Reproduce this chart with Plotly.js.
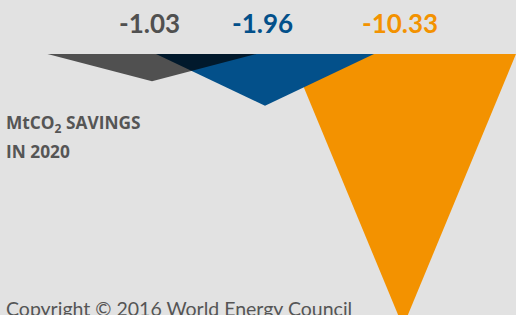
<!DOCTYPE html>
<html>
<head>
<meta charset="utf-8">
<script src="https://cdn.plot.ly/plotly-3.0.1.min.js"></script>
<style>
html,body{margin:0;padding:0;background:#e2e2e2;}
#chart{width:516px;height:315px;}
</style>
</head>
<body>
<div id="chart"></div>
<script>
// ---- data ----
const categories = ["Scenario A", "Scenario B", "Scenario C"];
const savings = [-1.03, -1.96, -10.33];
const valueLabels = ["-1.03", "-1.96", "-10.33"];
const sideTitleLines = ["MtCO<sub>2</sub> SAVINGS", "IN 2020"];
const copyrightText = "Copyright © 2016 World Energy Council";

// ---- layout / style constants ----
const centers = [152, 265, 403];      // x position of each triangle's tip (axis units)
const halfWidths = [104.5, 109, 113]; // half width of each triangle top (axis units)
const colors = ["#505050", "#03508a", "#f39200"];
const labelColors = ["#505050", "#03508a", "#f39200"];
const drawOrder = [2, 1, 0];
const sideTitleY = [0.606, 0.520];

const traces = drawOrder.map(i => ({
  type: "scatter",
  mode: "lines",
  name: categories[i],
  x: [centers[i] - halfWidths[i], centers[i] + halfWidths[i], centers[i], centers[i] - halfWidths[i]],
  y: [0, 0, savings[i], 0],
  fill: "toself",
  fillcolor: colors[i],
  line: {width: 0, color: colors[i]},
  hoverinfo: "skip",
  showlegend: false
}));

const annotations = savings.map((v, i) => ({
  x: centers[i] - 3, xref: "x",
  y: 0.928, yref: "paper",
  text: valueLabels[i],
  showarrow: false,
  xanchor: "center", yanchor: "middle",
  font: {family: "Lato, sans-serif", size: 26, color: labelColors[i], weight: 700}
}));
sideTitleLines.forEach((t, k) => annotations.push({
  x: 0.008, xref: "paper", y: sideTitleY[k], yref: "paper",
  text: t,
  align: "left", showarrow: false,
  xanchor: "left", yanchor: "middle",
  font: {family: "'Open Sans', sans-serif", size: 17.3, color: "#555555", weight: 700}
}));
annotations.push({
  x: 0.008, xref: "paper", y: -0.021, yref: "paper",
  text: copyrightText,
  align: "left", showarrow: false,
  xanchor: "left", yanchor: "bottom",
  font: {family: "Lato, sans-serif", size: 19.5, color: "#555555"}
});

const layout = {
  width: 516, height: 315,
  margin: {l: 0, r: 0, t: 0, b: 0},
  paper_bgcolor: "#e2e2e2",
  plot_bgcolor: "#e2e2e2",
  xaxis: {range: [0, 516], visible: false, fixedrange: true},
  yaxis: {range: [-9.886, 2.045], visible: false, fixedrange: true},
  annotations: annotations,
  showlegend: false
};

Plotly.newPlot("chart", traces, layout, {displayModeBar: false, staticPlot: true}).then(() => {
  const tr = document.querySelectorAll(".scatterlayer .trace");
  if (tr.length) {
    const last = tr[tr.length - 1];
    last.style.mixBlendMode = "multiply";
  }
});
</script>
</body>
</html>
